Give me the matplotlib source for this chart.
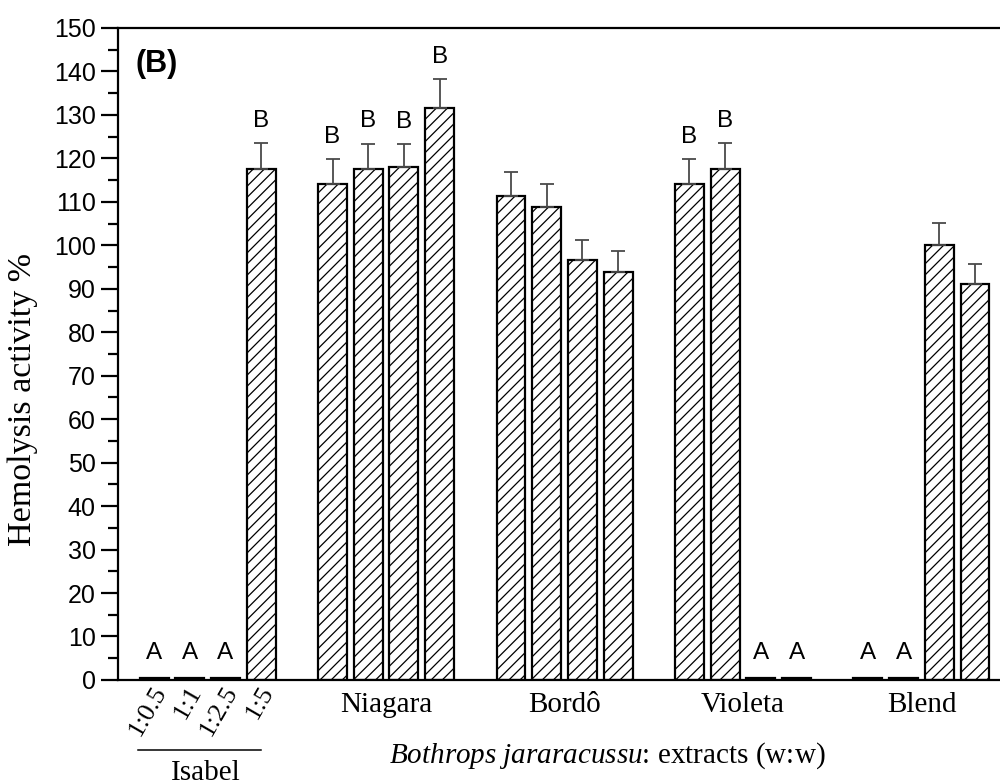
import matplotlib
matplotlib.use("Agg")
import matplotlib.pyplot as plt
import matplotlib.transforms as mtransforms
import numpy as np

plt.rcParams["hatch.linewidth"] = 0.9
plt.rcParams["mathtext.fontset"] = "custom"
plt.rcParams["mathtext.rm"] = "Liberation Serif"
plt.rcParams["mathtext.it"] = "Liberation Serif:italic"

groups = ["Isabel", "Niagara", "Bordô", "Violeta", "Blend"]
ratios = ["1:0.5", "1:1", "1:2.5", "1:5"]

isabel = [0.5, 0.5, 0.5, 117.5]
niagara = [114.1, 117.5, 118.0, 131.7]
bordo = [111.4, 108.8, 96.6, 93.9]
violeta = [114.1, 117.6, 0.5, 0.5]
blend = [0.5, 0.5, 100.0, 91.2]

isabel_err = [0, 0, 0, 6.0]
niagara_err = [5.7, 5.9, 5.2, 6.5]
bordo_err = [5.5, 5.4, 4.7, 4.7]
violeta_err = [5.7, 5.9, 0, 0]
blend_err = [0, 0, 5.2, 4.6]

isabel_let = ["A", "A", "A", "B"]
niagara_let = ["B", "B", "B", "B"]
bordo_let = ["", "", "", ""]
violeta_let = ["B", "B", "A", "A"]
blend_let = ["A", "A", "", ""]

vals = np.array(isabel + niagara + bordo + violeta + blend)
errs = np.array(isabel_err + niagara_err + bordo_err + violeta_err + blend_err)
lets = isabel_let + niagara_let + bordo_let + violeta_let + blend_let

# 4 bars per group, one empty slot between groups
x = np.array([g * 5 + i for g in range(5) for i in range(4)], dtype=float)

fig = plt.figure(figsize=(10, 7.84), dpi=100)
ax = fig.add_axes([0.118, 0.1327, 0.882, 0.8316])

ax.bar(x, vals, width=0.81, color="white", edgecolor="black",
       linewidth=1.6, hatch="///")
m = errs > 0
ax.errorbar(x[m], vals[m], yerr=[np.zeros(m.sum()), errs[m]], fmt="none",
            ecolor="#4a4a4a", elinewidth=1.3, capsize=5, capthick=1.3)

for xi, v, e, t in zip(x, vals, errs, lets):
    if t:
        off = 8 if e > 0 else 10
        ax.annotate(t, (xi, v + e), xytext=(0, off), textcoords="offset points",
                    ha="center", va="bottom", fontsize=17.5,
                    family="Liberation Sans")

ax.set_xlim(-1.01, 23.7)
ax.set_ylim(0, 150)
ax.set_yticks(np.arange(0, 151, 10))
ax.set_yticks(np.arange(0, 151, 5), minor=True)
ax.set_xticks([])
ax.tick_params(axis="y", which="major", length=12, width=1.6,
               labelsize=18, pad=4)
ax.tick_params(axis="y", which="minor", length=7, width=1.6)
for lab in ax.get_yticklabels():
    lab.set_family("Liberation Sans")
for s in ["left", "top", "bottom"]:
    ax.spines[s].set_linewidth(1.6)
ax.spines["right"].set_visible(False)

ax.set_ylabel("Hemolysis activity %", family="Liberation Serif",
              fontsize=24.5)
ax.yaxis.set_label_coords(-0.091, 0.43)

ax.text(0.02, 0.945, "(B)", transform=ax.transAxes, fontsize=22,
        fontweight="bold", family="Liberation Sans", va="center")

trans = mtransforms.blended_transform_factory(ax.transData, ax.transAxes)
for i, r in enumerate(ratios):
    ax.text(x[i] + 0.2, -0.012, r, transform=trans, rotation=60,
            rotation_mode="anchor", ha="right", va="center",
            family="Liberation Serif", fontsize=19)

ax.plot([-0.45, 3.0], [-0.107, -0.107], transform=trans, color="black",
        lw=1.1, clip_on=False)
ax.text(1.45, -0.1534, "Isabel", transform=trans, ha="center", va="baseline",
        family="Liberation Serif", fontsize=21)

for g in range(1, 5):
    ax.text(g * 5 + 1.5, -0.049, groups[g], transform=trans, ha="center",
            va="baseline", family="Liberation Serif", fontsize=21)

ax.text(0.555, -0.127,
        r"$Bothrops\ jararacussu$:" + " extracts (w:w)",
        transform=ax.transAxes, ha="center", va="baseline",
        family="Liberation Serif", fontsize=21)

fig.savefig("out.png", dpi=100)
